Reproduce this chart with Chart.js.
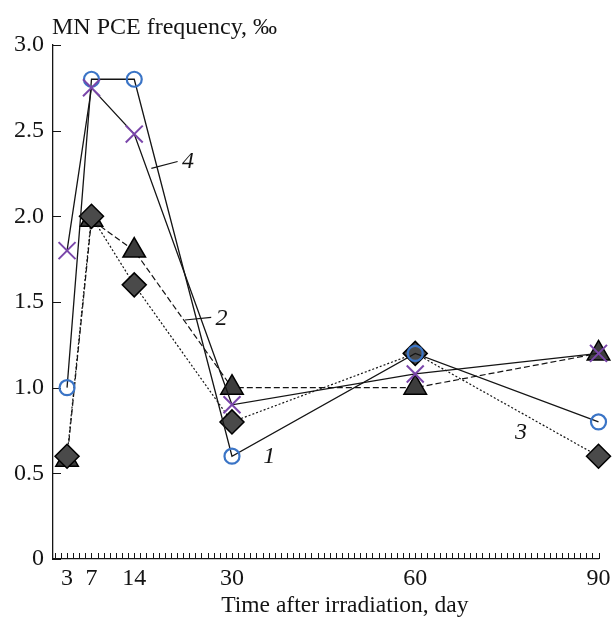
<!DOCTYPE html>
<html>
<head>
<meta charset="utf-8">
<script src="https://cdn.jsdelivr.net/npm/chart.js@4/dist/chart.umd.min.js"></script>
<style>
  html, body { margin: 0; padding: 0; background: #fff; }
  #wrap { width: 613px; height: 621px; }
</style>
</head>
<body>
<div id="wrap"><canvas id="chart" width="613" height="621"></canvas></div>
<script>
// days after irradiation
const days = [3, 7, 14, 30, 60, 90];
const labelledDays = [3, 7, 14, 30, 60, 90];
const yTickValues = [0, 0.5, 1, 1.5, 2, 2.5, 3];

// MN PCE frequency, per mille
const series1 = [1.0, 2.8, 2.8, 0.6, 1.2, 0.8];    // open circles
const series2 = [0.58, 1.98, 1.8, 1.0, 1.0, 1.2];  // triangles
const series3 = [0.6, 2.0, 1.6, 0.8, 1.2, 0.6];    // diamonds
const series4 = [1.8, 2.75, 2.48, 0.9, 1.08, 1.2]; // crosses

const yTitle = 'MN PCE frequency, \u2030';
const xTitle = 'Time after irradiation, day';

// curve numbers placed on the plot (day, value)
const curveNames = ['1', '2', '3', '4'];
const curveNameDay = [36.1, 28.3, 77.3, 22.8];
const curveNameValue = [0.6, 1.4, 0.74, 2.32];

const minorDays = Array.from({ length: 90 }, (_, i) => i + 1);

const serif = '"Liberation Serif", "Times New Roman", serif';
const ink = '#141414';
const fontSize = 24;

const toPoints = vals => days.map((d, i) => ({ x: d, y: vals[i] }));

const innerTicks = {
  id: 'innerTicks',
  beforeDatasetsDraw(chart) {
    const { ctx, scales: { x, y } } = chart;
    ctx.save();
    ctx.strokeStyle = ink;
    ctx.lineWidth = 1;
    ctx.beginPath();
    minorDays.forEach(d => {
      const px = Math.round(x.getPixelForValue(d)) + 0.5;
      ctx.moveTo(px, y.bottom);
      ctx.lineTo(px, y.bottom - 6);
    });
    yTickValues.forEach(v => {
      const py = Math.round(y.getPixelForValue(v)) + 0.5;
      ctx.moveTo(x.left, py);
      ctx.lineTo(x.left + 8, py);
    });
    ctx.stroke();
    ctx.restore();
  }
};

const annotate = {
  id: 'annotate',
  afterDraw(chart) {
    const { ctx, chartArea, scales: { x, y } } = chart;
    ctx.save();
    ctx.fillStyle = ink;
    ctx.font = fontSize + 'px ' + serif;
    ctx.textAlign = 'left';
    ctx.textBaseline = 'alphabetic';
    ctx.fillText(yTitle, chartArea.left - 1, 34);

    ctx.font = '23.5px ' + serif;
    ctx.textAlign = 'center';
    ctx.textBaseline = 'middle';
    ctx.fillText(xTitle, chartArea.left + (chartArea.right - chartArea.left) * 0.535, chartArea.bottom + 47);

    ctx.font = 'italic 24px ' + serif;
    curveNames.forEach((t, i) => {
      ctx.fillText(t, x.getPixelForValue(curveNameDay[i]), y.getPixelForValue(curveNameValue[i]));
    });

    // leader lines for curves 2 and 4
    ctx.strokeStyle = ink;
    ctx.lineWidth = 1.2;
    ctx.beginPath();
    ctx.moveTo(x.getPixelForValue(16.8), y.getPixelForValue(2.28));
    ctx.lineTo(x.getPixelForValue(21.1), y.getPixelForValue(2.32));
    ctx.moveTo(x.getPixelForValue(22.3), y.getPixelForValue(1.395));
    ctx.lineTo(x.getPixelForValue(26.6), y.getPixelForValue(1.41));
    ctx.stroke();
    ctx.restore();
  }
};

new Chart(document.getElementById('chart'), {
  type: 'line',
  data: {
    datasets: [
      {
        label: '4',
        data: toPoints(series4),
        borderColor: ink,
        borderWidth: 1.3,
        pointStyle: 'crossRot',
        pointRadius: 12,
        pointBorderColor: '#7a46aa',
        pointBorderWidth: 2,
        clip: false,
        order: 0
      },
      {
        label: '1',
        data: toPoints(series1),
        borderColor: ink,
        borderWidth: 1.3,
        pointStyle: 'circle',
        pointRadius: 7.5,
        pointBorderColor: '#3a74c6',
        pointBackgroundColor: 'rgba(0,0,0,0)',
        pointBorderWidth: 2.2,
        clip: false,
        order: 1
      },
      {
        label: '3',
        data: toPoints(series3),
        borderColor: ink,
        borderWidth: 1.2,
        borderDash: [2, 2],
        pointStyle: 'rectRot',
        pointRadius: 12,
        pointBorderColor: '#000',
        pointBackgroundColor: '#4a4a4a',
        pointBorderWidth: 1.5,
        clip: false,
        order: 2
      },
      {
        label: '2',
        data: toPoints(series2),
        borderColor: ink,
        borderWidth: 1.2,
        borderDash: [6, 3],
        pointStyle: 'triangle',
        pointRadius: 13,
        pointBorderColor: '#000',
        pointBackgroundColor: '#3c3c3c',
        pointBorderWidth: 1.5,
        clip: false,
        order: 3
      }
    ]
  },
  options: {
    responsive: false,
    animation: false,
    events: [],
    layout: { padding: { top: 45, right: 0, left: 0, bottom: 0 } },
    plugins: {
      legend: { display: false },
      tooltip: { enabled: false }
    },
    scales: {
      x: {
        type: 'linear',
        min: 0.7,
        max: 90,
        afterBuildTicks: s => { s.ticks = minorDays.map(v => ({ value: v })); },
        afterFit: s => { s.height = 62; s.paddingRight = 12; },
        grid: { display: false, drawTicks: false },
        border: { display: true, color: ink, width: 1.3 },
        ticks: {
          autoSkip: false,
          maxRotation: 0,
          padding: 5,
          color: ink,
          font: { family: serif, size: fontSize },
          callback: v => labelledDays.includes(v) ? String(v) : ''
        }
      },
      y: {
        min: 0,
        max: 3,
        afterBuildTicks: s => { s.ticks = yTickValues.map(v => ({ value: v })); },
        afterFit: s => { s.width = 53; },
        grid: { display: false, drawTicks: false },
        border: { display: true, color: ink, width: 1.3 },
        ticks: {
          padding: 9,
          color: ink,
          font: { family: serif, size: fontSize },
          callback: v => v === 0 ? '0' : v.toFixed(1)
        }
      }
    }
  },
  plugins: [innerTicks, annotate]
});
</script>
</body>
</html>
